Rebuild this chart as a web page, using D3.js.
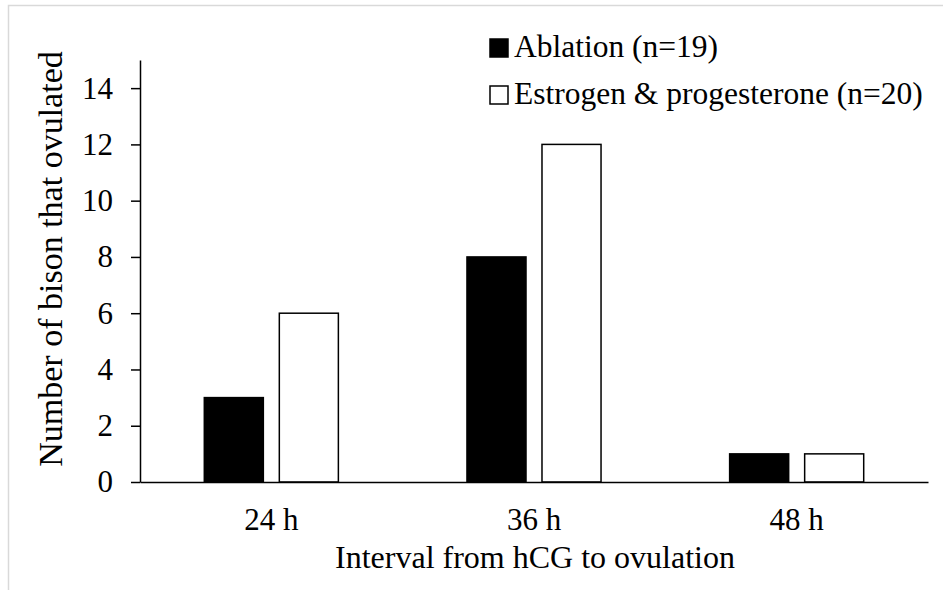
<!DOCTYPE html>
<html><head><meta charset="utf-8">
<script src="https://cdn.jsdelivr.net/npm/d3@7"></script>
<style>
html,body{margin:0;padding:0;background:#fff;overflow:hidden;}
</style></head>
<body>
<svg id="c" width="943" height="590" font-family="'Liberation Serif', 'Times New Roman', serif"></svg>
<script>
const categories = ["24 h", "36 h", "48 h"];
const seriesNames = ["Ablation (n=19)", "Estrogen & progesterone (n=20)"];
const ablation = [3, 8, 1];
const estrogenProgesterone = [6, 12, 1];
const yTicks = [0, 2, 4, 6, 8, 10, 12, 14];
const yTitle = "Number of bison that ovulated";
const xTitle = "Interval from hCG to ovulation";

const seriesValues = [ablation, estrogenProgesterone];
const fills = ["#000000", "#ffffff"];
const fontSize = 31;
const serif = "'Liberation Serif', 'Times New Roman', serif";

const svg = d3.select("#c");
// outer frame
svg.append("rect").attr("x", 8.5).attr("y", 5.5).attr("width", 1200).attr("height", 1200)
  .attr("fill", "none").attr("stroke", "#d9d9d9").attr("stroke-width", 1.5);

const pLeft = 140, pRight = 928, pTop = 60, pBottom = 482;
const x0 = d3.scaleBand().domain(categories).range([pLeft, pRight]).padding(0);
const x1 = d3.scaleBand().domain(seriesNames).range([0, x0.bandwidth()])
  .paddingInner(0.213).paddingOuter(0.857);
const y = d3.scaleLinear().domain([0, 15]).range([pBottom, pTop]);

// bars
categories.forEach((c, i) => {
  seriesNames.forEach((s, j) => {
    const v = seriesValues[j][i];
    svg.append("rect")
      .attr("x", x0(c) + x1(s))
      .attr("y", y(v))
      .attr("width", x1.bandwidth())
      .attr("height", y(0) - y(v))
      .attr("fill", fills[j])
      .attr("stroke", "#000").attr("stroke-width", 1.5);
  });
});

// y axis
const yAxis = svg.append("g").attr("transform", `translate(${pLeft},0)`)
  .call(d3.axisLeft(y).tickValues(yTicks).tickSize(9).tickPadding(18).tickSizeOuter(0));
yAxis.attr("font-family", serif).attr("font-size", fontSize);
yAxis.select(".domain").attr("stroke", "#000").attr("stroke-width", 1.5);
yAxis.selectAll(".tick line").attr("stroke", "#000").attr("stroke-width", 1.5);
yAxis.selectAll(".tick text").attr("font-family", serif).attr("font-size", fontSize).attr("fill", "#000");

// x axis
const xAxis = svg.append("g").attr("transform", `translate(0,${pBottom})`)
  .call(d3.axisBottom(x0).tickSize(0).tickPadding(26).tickSizeOuter(0));
xAxis.attr("font-family", serif).attr("font-size", fontSize);
xAxis.select(".domain").attr("stroke", "#000").attr("stroke-width", 1.5);
xAxis.selectAll(".tick text").attr("font-family", serif).attr("font-size", fontSize).attr("fill", "#000");

// axis titles
svg.append("text").attr("x", (pLeft + pRight) / 2 + 1).attr("y", 568)
  .attr("text-anchor", "middle").attr("font-family", serif).attr("font-size", 32).text(xTitle);
svg.append("text").attr("transform", `translate(62,259) rotate(-90)`)
  .attr("text-anchor", "middle").attr("font-family", serif).attr("font-size", 34).text(yTitle);

// legend
seriesNames.forEach((s, j) => {
  const ly = 39 + j * 47;
  svg.append("rect").attr("x", 490).attr("y", ly).attr("width", 18).attr("height", 18)
    .attr("fill", fills[j]).attr("stroke", "#000").attr("stroke-width", 1.5);
  svg.append("text").attr("x", 514).attr("y", ly + 18)
    .attr("font-family", serif).attr("font-size", 31.5).text(s);
});
</script>
</body></html>
